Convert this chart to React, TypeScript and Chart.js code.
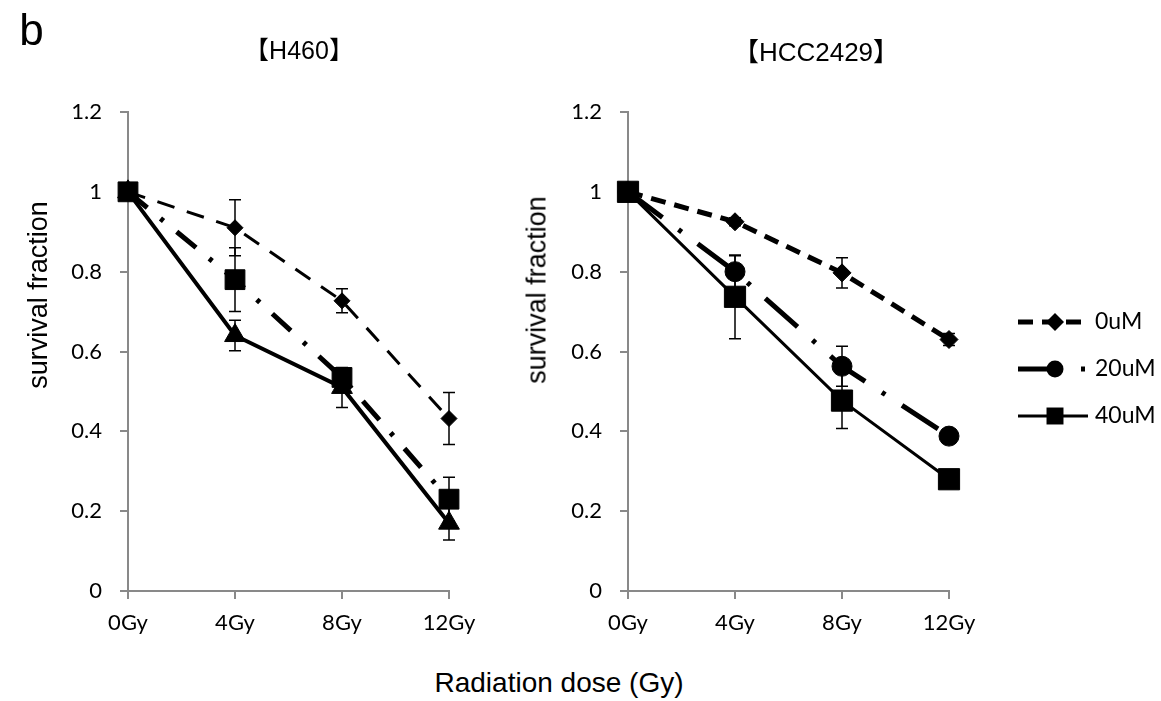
import React, { useEffect, useRef } from "react";
import { Chart, registerables } from "chart.js";

Chart.register(...registerables);

// ---------- data ----------
const doses = ["0Gy", "4Gy", "8Gy", "12Gy"];
const seriesNames = ["0uM", "20uM", "40uM"];
const yTickLabels = ["0", "0.2", "0.4", "0.6", "0.8", "1", "1.2"];

// H460
const h460_0uM = [1, 0.91, 0.727, 0.432];
const h460_0uM_err = [0, 0.07, 0.03, 0.065];
const h460_20uM = [1, 0.78, 0.535, 0.23];
const h460_20uM_err = [0, 0.08, 0.02, 0.055];
const h460_40uM = [1, 0.64, 0.51, 0.17];
const h460_40uM_err = [0, 0.038, 0.05, 0.042];

// HCC2429
const hcc_0uM = [1, 0.925, 0.797, 0.63];
const hcc_0uM_err = [0, 0.01, 0.038, 0.015];
const hcc_20uM = [1, 0.8, 0.563, 0.388];
const hcc_20uM_err = [0, 0.04, 0.05, 0.01];
const hcc_40uM = [1, 0.737, 0.477, 0.28];
const hcc_40uM_err = [0, 0.105, 0.07, 0.01];

const AXIS_COLOR = "#898989";

// ---------- plugins ----------
const errorBarPlugin = {
  id: "errorBars",
  afterDatasetsDraw(chart: any) {
    const ctx = chart.ctx;
    const xs = chart.scales.x;
    const ys = chart.scales.y;
    chart.data.datasets.forEach((ds: any) => {
      const errs: number[] = ds.errors || [];
      ds.data.forEach((v: number, i: number) => {
        const e = errs[i];
        if (!e) return;
        const x = xs.getPixelForValue(i);
        const yt = ys.getPixelForValue(v + e);
        const yb = ys.getPixelForValue(v - e);
        ctx.save();
        ctx.strokeStyle = "#000";
        ctx.lineWidth = 1.5;
        ctx.setLineDash([]);
        ctx.beginPath();
        ctx.moveTo(x, yt);
        ctx.lineTo(x, yb);
        ctx.moveTo(x - 6, yt);
        ctx.lineTo(x + 6, yt);
        ctx.moveTo(x - 6, yb);
        ctx.lineTo(x + 6, yb);
        ctx.stroke();
        ctx.restore();
      });
    });
  },
};

function drawMarker(ctx: CanvasRenderingContext2D, style: string, x: number, y: number, r: number) {
  ctx.beginPath();
  if (style === "circle") {
    ctx.arc(x, y, r, 0, Math.PI * 2);
  } else if (style === "rect") {
    const s = Math.SQRT1_2 * r;
    ctx.rect(x - s, y - s, 2 * s, 2 * s);
  } else if (style === "rectRot") {
    ctx.moveTo(x - r, y);
    ctx.lineTo(x, y - r);
    ctx.lineTo(x + r, y);
    ctx.lineTo(x, y + r);
    ctx.closePath();
  } else if (style === "triangle") {
    for (let k = 0; k < 3; k++) {
      const a = (k * 2 * Math.PI) / 3;
      const px = x + Math.sin(a) * r;
      const py = y - Math.cos(a) * r;
      if (k === 0) ctx.moveTo(px, py);
      else ctx.lineTo(px, py);
    }
    ctx.closePath();
  }
  ctx.fill();
}

const customLegendPlugin = {
  id: "customLegend",
  afterDraw(chart: any, _args: any, opts: any) {
    if (!opts || !opts.display) return;
    const ctx = chart.ctx;
    chart.data.datasets.forEach((ds: any, i: number) => {
      const y = opts.y + i * opts.spacing;
      ctx.save();
      ctx.strokeStyle = ds.borderColor;
      ctx.lineWidth = ds.borderWidth;
      ctx.setLineDash(ds.borderDash || []);
      ctx.beginPath();
      ctx.moveTo(opts.x, y);
      ctx.lineTo(opts.x + opts.lineLength, y);
      ctx.stroke();
      ctx.setLineDash([]);
      ctx.fillStyle = "#000";
      drawMarker(ctx, ds.pointStyle, opts.x + opts.markerOffset, y, ds.legendRadius);
      ctx.font = opts.font;
      ctx.textBaseline = "middle";
      ctx.textAlign = "left";
      ctx.fillText(ds.label, opts.x + opts.lineLength + opts.textGap, y);
      ctx.restore();
    });
  },
};

// ---------- chart panel ----------
type SeriesDef = {
  label: string;
  data: number[];
  errors: number[];
  pointStyle: string;
  radius: number;
  legendRadius: number;
  width: number;
  dash: number[];
  order: number;
};

function Panel(props: {
  left: number;
  width: number;
  height: number;
  padRight: number;
  series: SeriesDef[];
  legend: boolean;
}) {
  const ref = useRef<HTMLCanvasElement | null>(null);
  useEffect(() => {
    if (!ref.current) return;
    const chart = new Chart(ref.current, {
      type: "line",
      data: {
        labels: doses,
        datasets: props.series.map((s) => ({
          label: s.label,
          data: s.data,
          errors: s.errors,
          borderColor: "#000",
          backgroundColor: "#000",
          borderWidth: s.width,
          borderDash: s.dash,
          borderCapStyle: "butt",
          pointStyle: s.pointStyle,
          pointRadius: s.radius,
          pointHoverRadius: s.radius,
          pointBackgroundColor: "#000",
          pointBorderColor: "#000",
          pointBorderWidth: 1,
          legendRadius: s.legendRadius,
          tension: 0,
          fill: false,
          order: s.order,
        })) as any,
      },
      options: {
        animation: false,
        responsive: false,
        maintainAspectRatio: false,
        events: [],
        layout: { padding: { top: 112, right: props.padRight, left: 0, bottom: 0 } },
        plugins: {
          legend: { display: false },
          tooltip: { enabled: false },
          title: { display: false },
          customLegend: {
            display: props.legend,
            x: 518,
            y: 322,
            spacing: 47,
            lineLength: 70,
            markerOffset: 37,
            textGap: 7,
            font: '23px Lato',
          },
        } as any,
        scales: {
          x: {
            type: "category",
            offset: false,
            ticks: {
              padding: 11,
              color: "#000",
              font: { family: "Lato", size: 22 },
              maxRotation: 0,
              autoSkip: false,
            },
            grid: {
              drawOnChartArea: false,
              drawTicks: true,
              tickLength: 8,
              color: AXIS_COLOR,
              lineWidth: 2,
              offset: false,
            },
            border: { color: AXIS_COLOR, width: 2 },
            afterFit: (s: any) => {
              s.height = props.height - 591;
            },
          },
          y: {
            min: 0,
            max: 1.2,
            ticks: {
              stepSize: 0.2,
              padding: 18,
              color: "#000",
              font: { family: "Lato", size: 22 },
              callback: (_v: any, i: number) => yTickLabels[i],
            },
            grid: {
              drawOnChartArea: false,
              drawTicks: true,
              tickLength: 8,
              color: AXIS_COLOR,
              lineWidth: 2,
            },
            border: { color: AXIS_COLOR, width: 2 },
            title: { display: false },
            afterFit: (s: any) => {
              s.width = 128;
            },
          },
        },
      } as any,
      plugins: [errorBarPlugin, customLegendPlugin],
    });
    return () => chart.destroy();
  }, []);
  return (
    <canvas
      ref={ref}
      width={props.width}
      height={props.height}
      style={{ position: "absolute", left: props.left, top: 0, width: props.width, height: props.height }}
    />
  );
}

const leftSeries: SeriesDef[] = [
  { label: seriesNames[0], data: h460_0uM, errors: h460_0uM_err, pointStyle: "rectRot", radius: 8, legendRadius: 9, width: 3, dash: [18, 13], order: 3 },
  { label: seriesNames[1], data: h460_20uM, errors: h460_20uM_err, pointStyle: "rect", radius: 14, legendRadius: 12, width: 5, dash: [25, 17, 4, 17], order: 1 },
  { label: seriesNames[2], data: h460_40uM, errors: h460_40uM_err, pointStyle: "triangle", radius: 12, legendRadius: 10, width: 4, dash: [], order: 2 },
];

const rightSeries: SeriesDef[] = [
  { label: seriesNames[0], data: hcc_0uM, errors: hcc_0uM_err, pointStyle: "rectRot", radius: 9, legendRadius: 9, width: 5, dash: [15, 9], order: 3 },
  { label: seriesNames[1], data: hcc_20uM, errors: hcc_20uM_err, pointStyle: "circle", radius: 10, legendRadius: 8.5, width: 5, dash: [43, 20, 4, 20], order: 2 },
  { label: seriesNames[2], data: hcc_40uM, errors: hcc_40uM_err, pointStyle: "rect", radius: 15, legendRadius: 12, width: 3, dash: [], order: 1 },
];

function Label(props: { x: number; y: number; size: number; text: string; rotate?: boolean }) {
  return (
    <div
      style={{
        position: "absolute",
        left: props.x,
        top: props.y,
        transform: props.rotate ? "translate(-50%, -50%) rotate(-90deg)" : "translate(-50%, -50%)",
        fontFamily: '"Liberation Sans", "Noto Sans CJK JP", sans-serif',
        fontSize: props.size,
        lineHeight: 1,
        whiteSpace: "nowrap",
        color: "#000",
      }}
    >
      {props.text}
    </div>
  );
}

export default function App() {
  return (
    <div
      style={{
        position: "fixed",
        left: 0,
        top: 0,
        width: 1161,
        height: 701,
        background: "#fff",
        overflow: "hidden",
      }}
    >
      <Panel left={0} width={490} height={660} padRight={41} series={leftSeries} legend={false} />
      <Panel left={500} width={661} height={660} padRight={212} series={rightSeries} legend={true} />
      <Label x={31.5} y={30} size={44} text="b" />
      <Label x={299} y={50} size={25} text="【H460】" />
      <Label x={816} y={52} size={26} text="【HCC2429】" />
      <Label x={559} y={683} size={28} text="Radiation dose (Gy)" />
      <Label x={38} y={295} size={27} text="survival fraction" rotate />
      <Label x={537} y={290} size={27} text="survival fraction" rotate />
    </div>
  );
}
